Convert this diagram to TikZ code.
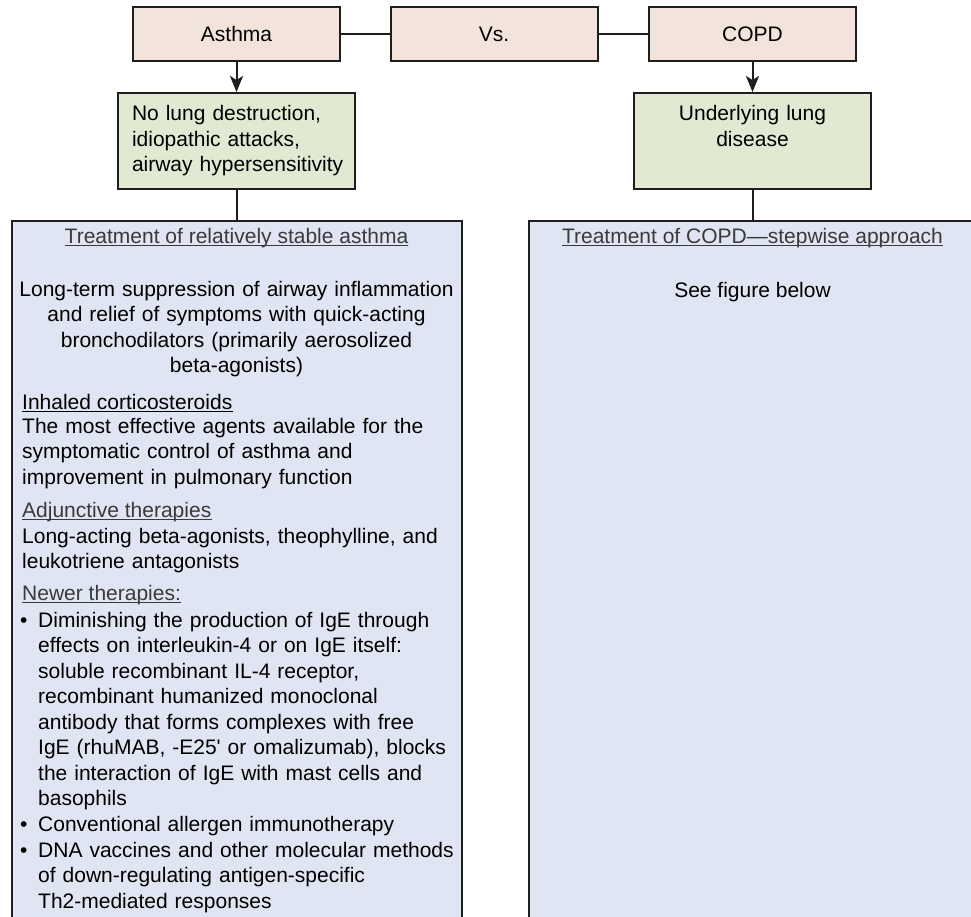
\documentclass[tikz,border=0pt]{standalone}
\usepackage{fontspec}
\setmainfont{Liberation Sans}
\usetikzlibrary{arrows.meta}

\definecolor{boxtan}{HTML}{F2E4DA}
\definecolor{boxgreen}{HTML}{E2E9D3}
\definecolor{boxblue}{HTML}{DFE5F2}
\definecolor{edge}{HTML}{1E1E1E}
\definecolor{headgray}{HTML}{3A3A3A}

\begin{document}
\begin{tikzpicture}[x=1pt,y=-1pt,
  every node/.style={font=\fontsize{21}{25.5}\selectfont, inner sep=0pt, text=black},
  topbox/.style={draw=edge, line width=2pt, fill=boxtan, minimum width=207pt, minimum height=54pt},
  greenbox/.style={draw=edge, line width=2pt, fill=boxgreen, minimum width=237pt, minimum height=96pt,
    text width=209pt, inner xsep=14pt},
  panel/.style={draw=edge, line width=2pt, fill=boxblue, minimum height=760pt, anchor=north},
  heading/.style={text=headgray, anchor=base},
  ul/.style={draw=headgray, line width=1.2pt},
  para/.style={anchor=base west, text width=430pt, align=left},
  link/.style={draw=edge, line width=2pt},
  flow/.style={link, -{Stealth[length=16pt,width=13pt,inset=4pt]}}
]
\useasboundingbox (0,0) rectangle (971,916);
\clip (0,0) rectangle (971,916);

% top row
\node[topbox] (asthma) at (236.5,34) {Asthma};
\node[topbox] (vs)     at (494,34)   {Vs.};
\node[topbox] (copd)   at (752.5,34) {COPD};
\draw[link] (asthma.east) -- (vs.west);
\draw[link] (vs.east) -- (copd.west);

% characteristics
\node[greenbox, align=left] (asthmag) at (236.5,141)
  {\mbox{No lung destruction,}\\\mbox{idiopathic attacks,}\\\mbox{airway hypersensitivity}};
\node[greenbox, align=center] (copdg) at (752.5,141)
  {Underlying lung\\disease\\\vphantom{y}};
\draw[flow] (asthma) -- (asthmag);
\draw[flow] (copd) -- (copdg);

% treatment panels
\node[panel, minimum width=450pt] (lpanel) at (236.5,220) {};
\node[panel, minimum width=448pt] (rpanel) at (752.5,220) {};
\draw[link] (asthmag.south) -- (lpanel.north);
\draw[link] (copdg.south) -- (rpanel.north);

% asthma treatment
\node[heading] (lhead) at (236.5,243) {Treatment of relatively stable asthma};
\draw[ul] ([yshift=-2.5pt]lhead.base west) -- ([yshift=-2.5pt]lhead.base east);

\node[anchor=base, text width=440pt, align=center] (lterm) at (236.5,296)
  {Long-term suppression of airway inflammation\\and relief of symptoms with quick-acting\\bronchodilators (primarily aerosolized\\beta-agonists)};

\node[heading, anchor=base west, text=black] (inh) at (22,409) {Inhaled corticosteroids};
\draw[ul, draw=black] ([yshift=-2.5pt]inh.base west) -- ([yshift=-2.5pt]inh.base east);
\node[para] (inhtxt) at (22,433)
  {The most effective agents available for the\\symptomatic control of asthma and\\improvement in pulmonary function};

\node[heading, anchor=base west] (adj) at (22,517) {Adjunctive therapies};
\draw[ul] ([yshift=-2.5pt]adj.base west) -- ([yshift=-2.5pt]adj.base east);
\node[para] (adjtxt) at (22,543)
  {Long-acting beta-agonists, theophylline, and\\leukotriene antagonists};

\node[heading, anchor=base west] (newer) at (22,600) {Newer therapies:};
\draw[ul] ([yshift=-2.5pt]newer.base west) -- ([yshift=-2.5pt]newer.base east);

\node[anchor=base west] (b1) at (20,627) {•};
\node[para, text width=420pt] (b1txt) at (38,627)
  {Diminishing the production of IgE through\\effects on interleukin-4 or on IgE itself:\\soluble recombinant IL-4 receptor,\\recombinant humanized monoclonal\\antibody that forms complexes with free\\IgE (rhuMAB, -E25\textquotesingle{} or omalizumab), blocks\\the interaction of IgE with mast cells and\\basophils};
\node[anchor=base west] (b2) at (20,831) {•};
\node[para, text width=420pt] (b2txt) at (38,831) {Conventional allergen immunotherapy};
\node[anchor=base west] (b3) at (20,857) {•};
\node[para, text width=420pt] (b3txt) at (38,857)
  {DNA vaccines and other molecular methods\\of down-regulating antigen-specific\\Th2-mediated responses};

% COPD treatment
\node[heading] (rhead) at (752.5,243) {Treatment of COPD—stepwise approach};
\draw[ul] ([yshift=-2.5pt]rhead.base west) -- ([yshift=-2.5pt]rhead.base east);
\node[anchor=base] (see) at (752.5,297) {See figure below};
\end{tikzpicture}
\end{document}
